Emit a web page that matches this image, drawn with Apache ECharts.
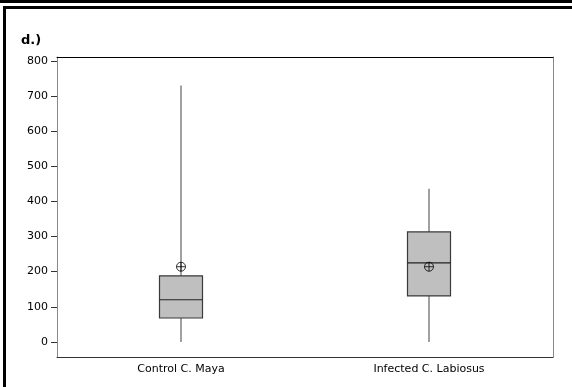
<!DOCTYPE html>
<html><head><meta charset="utf-8">
<script src="https://cdn.jsdelivr.net/npm/echarts@6/dist/echarts.min.js"></script>
<style>html,body{margin:0;padding:0;background:#fff}#c{width:572px;height:387px}</style>
</head><body><div id="c"></div>
<script>
const categories = ['Control C. Maya', 'Infected C. Labiosus'];
// [min, q1, median, q3, max]
const boxStats = [
  [0, 68, 120, 188, 730],
  [0, 131, 225, 313, 436]
];
const means = [214, 214];
const yTicks = [0, 100, 200, 300, 400, 500, 600, 700, 800];

const chart = echarts.init(document.getElementById('c'), null, {renderer: 'canvas'});
const FONT = 'DejaVu Sans';
const boxData = boxStats.map((s, i) => [i].concat(s));
const meanData = means.map((m, i) => [i, m]);

chart.setOption({
  animation: false,
  title: {text: 'd.)', left: 16, top: 29, textStyle: {fontFamily: FONT, fontSize: 13, fontWeight: 'bold', color: '#000'}},
  grid: {left: 57, right: 19, top: 57, bottom: 30},
  xAxis: [{
    type: 'category', data: categories, boundaryGap: true,
    axisLine: {onZero: false, lineStyle: {color: '#333', width: 1}},
    axisTick: {alignWithLabel: true, length: 3, lineStyle: {color: '#666'}},
    axisLabel: {fontFamily: FONT, fontSize: 11, color: '#000', margin: 7, interval: 0},
    splitLine: {show: false}
  }, {
    type: 'category', data: categories, position: 'top',
    axisLine: {onZero: false, lineStyle: {color: '#000', width: 1}},
    axisTick: {show: false}, axisLabel: {show: false}
  }],
  yAxis: [{
    type: 'value', min: -43, max: 811,
    axisLine: {show: true, onZero: false, lineStyle: {color: '#888', width: 1}},
    axisTick: {show: true, length: 6, customValues: yTicks, lineStyle: {color: '#333'}},
    axisLabel: {fontFamily: FONT, fontSize: 11, color: '#000', margin: 9, customValues: yTicks},
    splitLine: {show: false}
  }, {
    type: 'value', min: -43, max: 811, position: 'right',
    axisLine: {show: true, onZero: false, lineStyle: {color: '#888', width: 1}},
    axisTick: {show: false}, axisLabel: {show: false}, splitLine: {show: false}
  }],
  graphic: [
    {type: 'rect', shape: {x: 0, y: 0, width: 572, height: 3}, style: {fill: '#000'}},
    {type: 'rect', shape: {x: 3, y: 6, width: 572, height: 3}, style: {fill: '#000'}},
    {type: 'rect', shape: {x: 3, y: 6, width: 3, height: 400}, style: {fill: '#000'}}
  ],
  series: [{
    type: 'custom',
    data: boxData,
    renderItem: function (params, api) {
      const x = api.coord([api.value(0), 0])[0];
      const yMin = api.coord([api.value(0), api.value(1)])[1];
      const yQ1 = api.coord([api.value(0), api.value(2)])[1];
      const yMed = api.coord([api.value(0), api.value(3)])[1];
      const yQ3 = api.coord([api.value(0), api.value(4)])[1];
      const yMax = api.coord([api.value(0), api.value(5)])[1];
      const hw = 21.5;
      return {type: 'group', children: [
        {type: 'line', shape: {x1: x, y1: yMax, x2: x, y2: yQ3}, style: {stroke: '#6e6e6e', lineWidth: 1.3}},
        {type: 'line', shape: {x1: x, y1: yQ1, x2: x, y2: yMin}, style: {stroke: '#6e6e6e', lineWidth: 1.3}},
        {type: 'rect', shape: {x: x - hw, y: yQ3, width: hw * 2, height: yQ1 - yQ3}, style: {fill: '#bfbfbf', stroke: '#3a3a3a', lineWidth: 1.2}},
        {type: 'line', shape: {x1: x - hw, y1: yMed, x2: x + hw, y2: yMed}, style: {stroke: '#222', lineWidth: 1.2}}
      ]};
    },
    encode: {x: 0, y: [1, 2, 3, 4, 5]},
    z: 2
  }, {
    type: 'scatter',
    data: meanData,
    symbol: 'path://M0,5 A5,5 0 1,1 10,5 A5,5 0 1,1 0,5 Z M5,0 L5,10 M0,5 L10,5',
    symbolSize: 9,
    itemStyle: {color: 'none', borderColor: '#000', borderWidth: 1},
    z: 3
  }]
});
</script></body></html>
